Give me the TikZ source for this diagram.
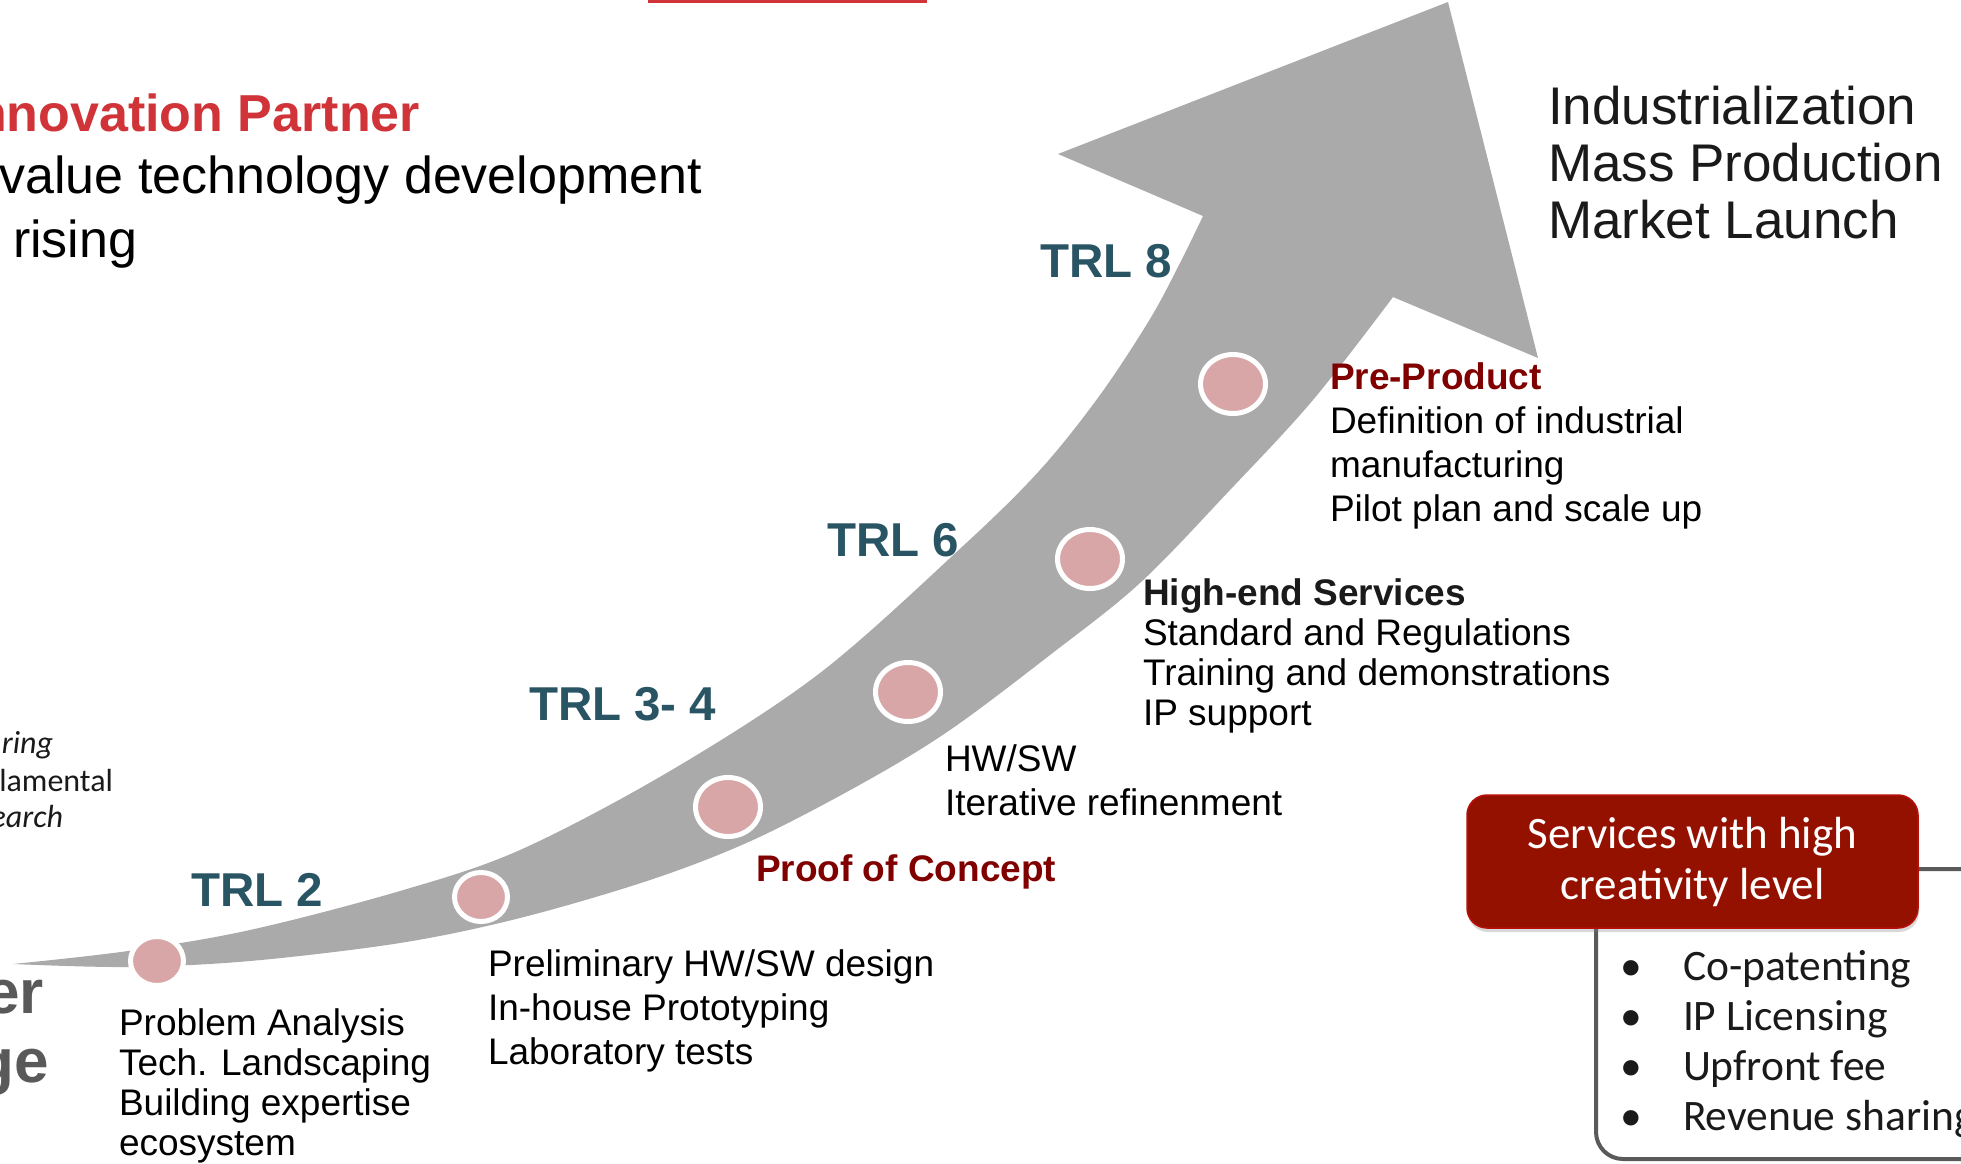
\documentclass[tikz,border=0pt]{standalone}
\usepackage{fontspec}
\setmainfont{Liberation Sans}
\newfontfamily\calfont{Carlito}
\usetikzlibrary{shapes.geometric,shadows}

\definecolor{bandgray}{HTML}{AAAAAA}
\definecolor{dotpink}{HTML}{D9A6A7}
\definecolor{trlteal}{HTML}{295463}
\definecolor{stagered}{HTML}{800000}
\definecolor{headred}{HTML}{D03438}
\definecolor{boxred}{HTML}{941100}
\definecolor{boxedge}{HTML}{B80F0A}
\definecolor{framegray}{HTML}{5A5A5A}
\definecolor{txtdark}{HTML}{1A1A1A}
\definecolor{leftgray}{HTML}{595959}

\newcommand{\fsz}[2]{\fontsize{#1bp}{#2bp}\selectfont}

\begin{document}
\begin{tikzpicture}[x=1bp, y=-1bp,
  every node/.style={inner sep=0pt, outer sep=0pt},
  trl/.style={anchor=base west, font=\fsz{47.5}{57}\bfseries, text=trlteal},
  body/.style={anchor=base west, font=\fsz{37}{44}, text=black},
  bodybold/.style={anchor=base west, font=\fsz{37}{44}\bfseries, text=txtdark},
  stage/.style={anchor=base west, font=\fsz{37}{44}\bfseries, text=stagered},
  head/.style={anchor=base west, font=\fsz{53}{60}, text=txtdark},
  dotsmall/.style={ellipse, fill=dotpink, draw=white, line width=5bp, minimum width=53bp, minimum height=49bp},
  dotbig/.style={ellipse, fill=dotpink, draw=white, line width=5bp, minimum width=65bp, minimum height=59bp},
  svcbox/.style={rectangle, rounded corners=20bp, fill=boxred, draw=boxedge, line width=1.5bp,
    minimum width=451bp, minimum height=133bp, text=white, align=center,
    font=\calfont\fsz{45}{51},
    drop shadow={opacity=0.3, shadow xshift=1bp, shadow yshift=-4bp}},
  bullet/.style={anchor=base, font=\calfont\fsz{43.5}{50}, text=txtdark},
  btext/.style={anchor=base west, font=\calfont\fsz{43.5}{50}, text=txtdark},
  sidenote/.style={anchor=base east, font=\calfont\fsz{32}{38}, text=txtdark},
  cutbig/.style={anchor=base east, font=\fsz{62}{69}\bfseries, text=leftgray}
]
\useasboundingbox (0,0) rectangle (1961,1163);
\fill[white] (0,0) rectangle (1961,1163);

% top red rule
\fill[headred] (648,0) rectangle (927,3);

% headline (cut at the left edge)
\node[anchor=base east, font=\fsz{52}{63}\bfseries, text=headred] (h1) at (420,131) {nnovation Partner};
\node[anchor=base east, font=\fsz{52}{63}, text=black] (h2) at (702,193) {value technology development};
\node[anchor=base west, font=\fsz{52}{63}, text=black] (h3) at (13,257) {rising};

% left side notes (cut)
\node[sidenote, font=\calfont\itshape\fsz{32}{38}] (s1) at (53,753) {ring};
\node[sidenote] (s2) at (113,791) {lamental};
\node[sidenote, font=\calfont\itshape\fsz{32}{38}] (s3) at (63,827) {earch};
\node[cutbig] (k1) at (44,1013) {er};
\node[cutbig] (k2) at (49,1082) {ge};

% the rising arrow
\fill[bandgray] plot[smooth, tension=0.55] coordinates {(13,964) (128,951) (250,930) (400,891) (520,850) (670,771) (820,673) (963,546) (1040,470) (1100,395) (1150,319) (1180,263) (1203,216)}
  -- (1058,154) -- (1448,2) -- (1538,358)
  -- plot[smooth, tension=0.55] coordinates {(1393,297) (1313,400) (1230,490) (1140,583) (1050,655) (950,730) (863,783) (753,840) (650,880) (520,918) (400,943) (250,961) (128,967) (13,964)} -- cycle;

% milestones
\node[dotsmall] (d1) at (157,961) {};
\node[dotsmall] (d2) at (481,897) {};
\node[dotbig] (d3) at (728,807) {};
\node[dotbig] (d4) at (908,692) {};
\node[dotbig] (d5) at (1090,559) {};
\node[dotbig] (d6) at (1233,384) {};

% TRL labels
\node[trl] (trl2) at (191,906) {TRL 2};
\node[trl] (trl34) at (529,720) {TRL 3- 4};
\node[trl] (trl6) at (827,556) {TRL 6};
\node[trl] (trl8) at (1040,277) {TRL 8};

% stage descriptions
\node[body] (b1a) at (119,1035) {Problem Analysis};
\node[body] (b1b) at (119,1075) {Tech. Landscaping};
\node[body] (b1c) at (119,1115) {Building expertise};
\node[body] (b1d) at (119,1155) {ecosystem};

\node[body] (b2a) at (488,976) {Preliminary HW/SW design};
\node[body] (b2b) at (488,1020) {In-house Prototyping};
\node[body] (b2c) at (488,1064) {Laboratory tests};

\node[stage] (poc) at (756,881) {Proof of Concept};

\node[body] (b3a) at (945,771) {HW/SW};
\node[body] (b3b) at (945,815) {Iterative refinenment};

\node[bodybold] (b4a) at (1143,605) {High-end Services};
\node[body] (b4b) at (1143,645) {Standard and Regulations};
\node[body] (b4c) at (1143,685) {Training and demonstrations};
\node[body] (b4d) at (1143,725) {IP support};

\node[stage] (b5a) at (1330,389) {Pre-Product};
\node[body] (b5b) at (1330,433) {Definition of industrial};
\node[body] (b5c) at (1330,477) {manufacturing};
\node[body] (b5d) at (1330,521) {Pilot plan and scale up};

% final stage
\node[head] (f1) at (1548,124) {Industrialization};
\node[head] (f2) at (1548,181) {Mass Production};
\node[head] (f3) at (1548,238) {Market Launch};

% services frame and box
\draw[framegray, line width=4bp, rounded corners=27bp] (1596,869) rectangle (2030,1159);
\node[svcbox] (svc) at (1692.5,861.5) {Services with high\\creativity level};

\node[bullet] (p1) at (1631,980) {•};
\node[bullet] (p2) at (1631,1030) {•};
\node[bullet] (p3) at (1631,1080) {•};
\node[bullet] (p4) at (1631,1130) {•};
\node[btext] (q1) at (1683,980) {Co-patenting};
\node[btext] (q2) at (1683,1030) {IP Licensing};
\node[btext] (q3) at (1683,1080) {Upfront fee};
\node[btext] (q4) at (1683,1130) {Revenue sharing};
\end{tikzpicture}
\end{document}
